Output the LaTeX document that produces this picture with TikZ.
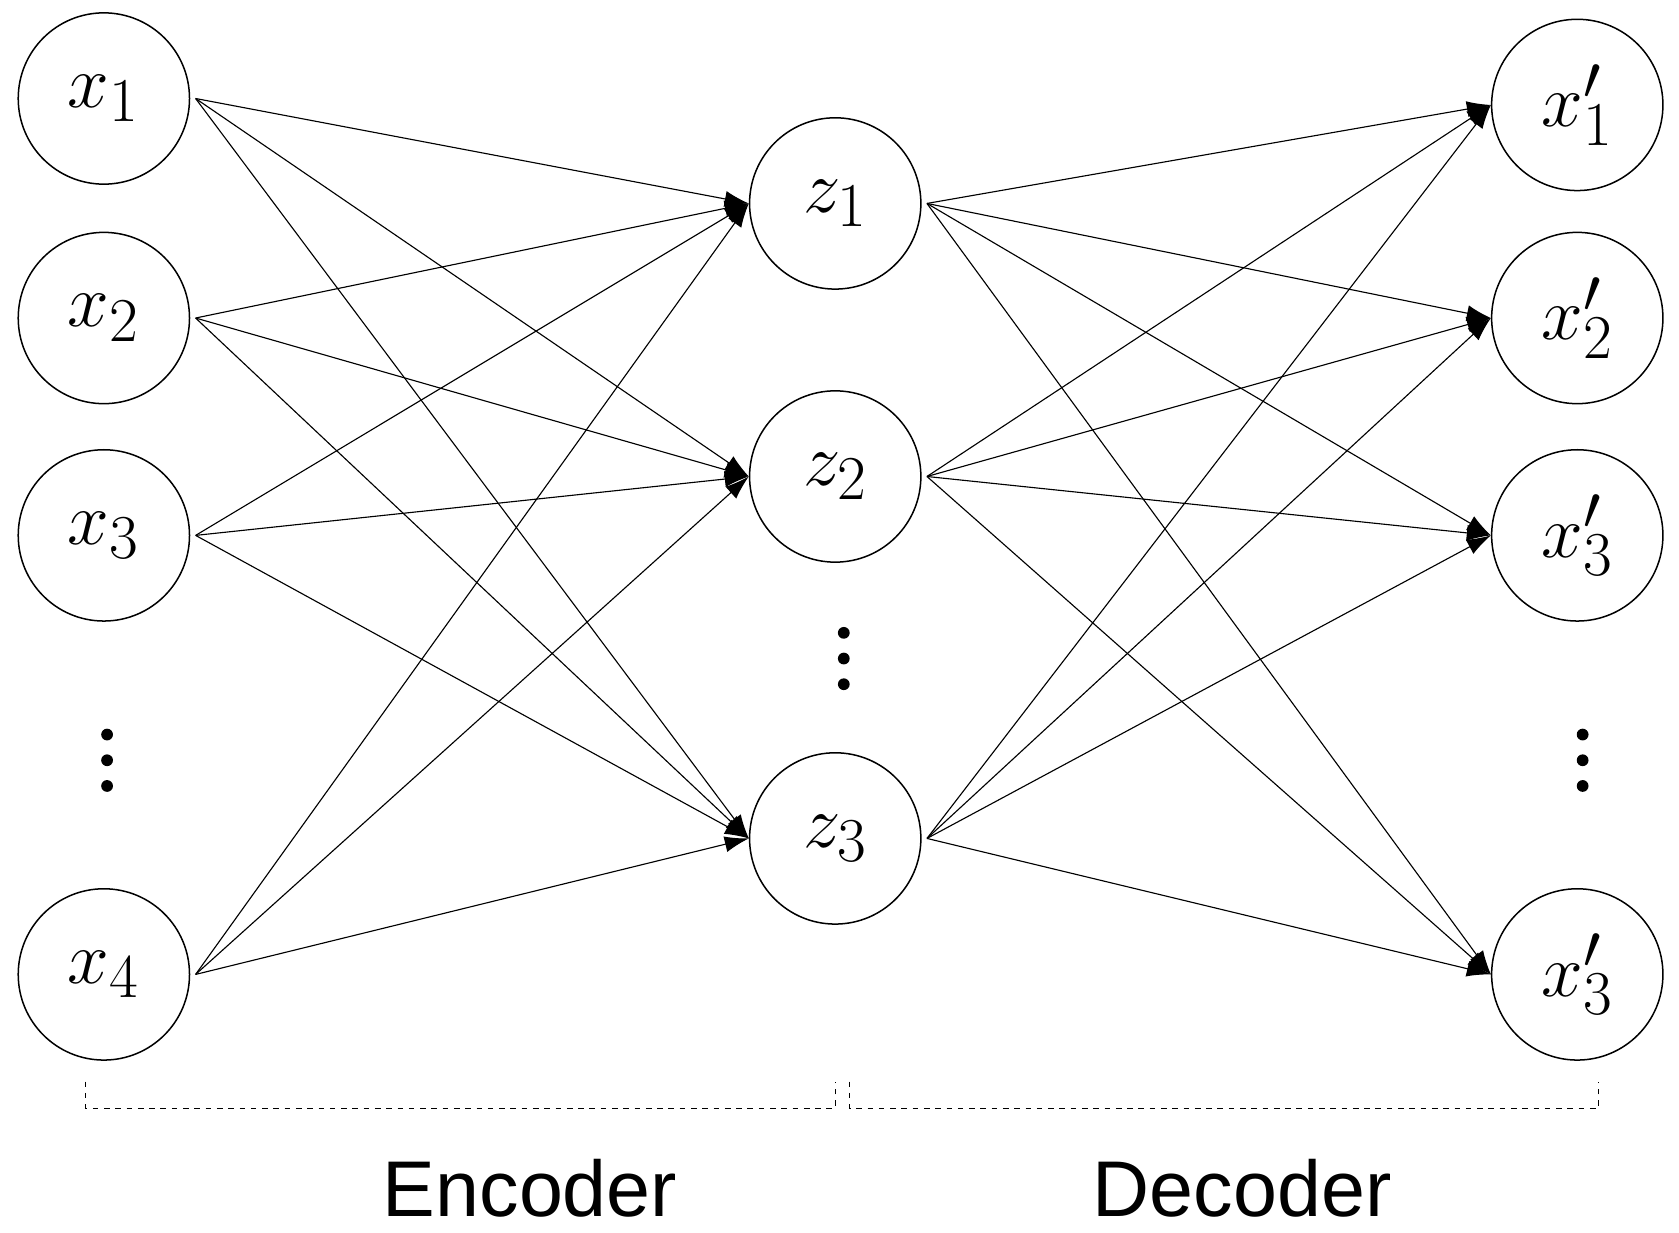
\documentclass[tikz,border=0pt]{standalone}
\usepackage{fontspec}
\newfontfamily\lab{Liberation Sans}
\usetikzlibrary{arrows.meta}
\newcommand{\lbl}[1]{\scalebox{1.6}{$#1$}}
\begin{document}
\begin{tikzpicture}[x=0.02cm,y=-0.02cm,
  neu/.style={circle,draw,line width=0.8pt,minimum size=3.2cm,inner sep=0pt,font=\Huge},
  con/.style={line width=0.6pt,-{Latex[length=0.45cm,width=0.3cm]}},
  br/.style={dashed,line width=0.6pt}]
\useasboundingbox (0,0) rectangle (1568,1151);
\node[neu] (x1) at (97,92) {\lbl{x_1}};
\node[neu] (x2) at (97,297) {\lbl{x_2}};
\node[neu] (x3) at (97,500) {\lbl{x_3}};
\node[neu] (x4) at (97,910) {\lbl{x_4}};
\node[neu] (z1) at (780,190) {\lbl{z_1}};
\node[neu] (z2) at (780,445) {\lbl{z_2}};
\node[neu] (z3) at (780,783) {\lbl{z_3}};
\node[neu] (y1) at (1473,98) {\lbl{x_1'}};
\node[neu] (y2) at (1473,297) {\lbl{x_2'}};
\node[neu] (y3) at (1473,500) {\lbl{x_3'}};
\node[neu] (y4) at (1473,910) {\lbl{x_3'}};
\foreach \p in {(100,710),(788,615),(1478,710)}
  \foreach \d in {-24,0,24} \fill \p ++(0,\d) circle (5.5);
\foreach \a in {x1,x2,x3,x4} \foreach \b in {z1,z2,z3}
  \draw[con] ([xshift=0.1cm]\a.east) -- (\b.west);
\foreach \a in {z1,z2,z3} \foreach \b in {y1,y2,y3,y4}
  \draw[con] ([xshift=0.1cm]\a.east) -- (\b.west);
\coordinate (e1) at (80,1010); \coordinate (e2) at (80,1035);
\coordinate (e3) at (780,1035); \coordinate (e4) at (780,1010);
\draw[br] (e1) -- (e2) -- (e3) -- (e4);
\coordinate (d1) at (793,1010); \coordinate (d2) at (793,1035);
\coordinate (d3) at (1493,1035); \coordinate (d4) at (1493,1010);
\draw[br] (d1) -- (d2) -- (d3) -- (d4);
\node[font=\lab\fontsize{42}{48}\selectfont] (enc) at (495,1110) {Encoder};
\node[font=\lab\fontsize{42}{48}\selectfont] (dec) at (1160,1110) {Decoder};
\end{tikzpicture}
\end{document}
